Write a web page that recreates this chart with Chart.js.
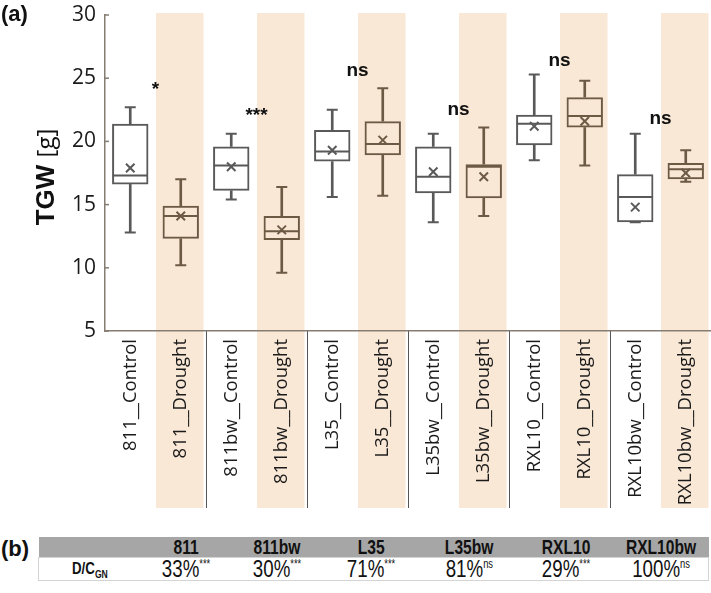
<!DOCTYPE html>
<html lang="en">
<head>
    <meta charset="UTF-8">
    <title>TGW - Control vs Drought</title>
    <script src="https://cdn.jsdelivr.net/npm/chart.js"></script>
    <style>
        body {
            margin: 0;
            background: #fff;
        }
        #wrap {
            position: relative;
            width: 711px;
            height: 593px;
        }
        #tgw-chart {
            position: absolute;
            left: 0;
            top: 0;
        }
        .panel-tag {
            position: absolute;
            left: 1px;
            font: bold 22px "Liberation Sans", Arial, sans-serif;
            color: #111;
        }
        #ratio-table {
            position: absolute;
            left: 38px;
            top: 537px;
            width: 670px;
            border-collapse: collapse;
            font-family: "Liberation Sans", Arial, sans-serif;
            color: #111;
            table-layout: fixed;
        }
        #ratio-table th {
            background: #a6a6a6;
            height: 20px;
            padding: 0;
            font-size: 20px;
            font-weight: bold;
            text-align: center;
            line-height: 20px;
        }
        #ratio-table td {
            height: 22px;
            padding: 0;
            font-size: 24px;
            text-align: center;
            line-height: 22px;
            border: 1px solid #d4d4d4;
            border-left: none;
            border-right: none;
        }
        #ratio-table td:first-child { border-left: 1px solid #d4d4d4; }
        #ratio-table td:last-child { border-right: 1px solid #d4d4d4; }
        #ratio-table .narrow {
            display: inline-block;
            transform: scaleX(0.78);
            white-space: nowrap;
        }
        #ratio-table td.rowname {
            font-size: 17px;
            font-weight: bold;
        }
        #ratio-table sup {
            font-size: 12px;
            vertical-align: 9px;
            line-height: 0;
        }
        #ratio-table sub {
            font-size: 11px;
            vertical-align: -4px;
            line-height: 0;
        }
    </style>
</head>
<body>
<div id="wrap">
    <canvas id="tgw-chart" width="711" height="520"></canvas>
    <div class="panel-tag" style="top:1px">(a)</div>
    <div class="panel-tag" style="top:536px">(b)</div>
    <table id="ratio-table">
        <colgroup>
            <col style="width:102px"><col style="width:92px"><col style="width:90px">
            <col style="width:98px"><col style="width:98px"><col style="width:96px"><col style="width:94px">
        </colgroup>
        <thead><tr id="head-row"><th></th></tr></thead>
        <tbody><tr id="value-row"><td class="rowname"><span class="narrow">D/C<sub>GN</sub></span></td></tr></tbody>
    </table>
</div>

<script>
    // genotype x treatment groups
    const groups = [
        '811__Control', '811__Drought', '811bw__Control', '811bw__Drought',
        'L35__Control', 'L35__Drought', 'L35bw__Control', 'L35bw__Drought',
        'RXL10__Control', 'RXL10__Drought', 'RXL10bw__Control', 'RXL10bw__Drought'
    ];
    const whiskerLow  = [12.8, 10.2, 15.4,  9.6, 15.6, 15.7, 13.6, 14.1, 18.5, 18.1, 13.6, 16.8];
    const q1          = [16.6, 12.3, 16.1, 12.2, 18.4, 18.9, 15.9, 15.5, 19.7, 21.1, 13.6, 17.0];
    const medians     = [17.3, 14.1, 18.1, 12.9, 19.2, 19.8, 17.2, 18.0, 21.4, 22.0, 15.6, 17.8];
    const q3          = [21.4, 14.9, 19.6, 14.1, 20.9, 21.6, 19.6, 18.2, 22.1, 23.5, 17.4, 18.3];
    const whiskerHigh = [22.7, 17.0, 20.6, 16.4, 22.5, 24.2, 20.6, 21.1, 25.3, 24.8, 20.6, 19.3];
    const means       = [17.9, 14.1, 18.0, 13.0, 19.3, 20.1, 17.6, 17.2, 21.2, 21.6, 14.8, 17.5];

    // significance marks, one per genotype pair
    const sigMarks  = ['*', '***', 'ns', 'ns', 'ns', 'ns'];
    const sigValues = [23.7, 21.6, 25.2, 22.1, 26.0, 21.4];

    // panel (b)
    const genotypes = ['811', '811bw', 'L35', 'L35bw', 'RXL10', 'RXL10bw'];
    const ratios    = ['33%', '30%', '71%', '81%', '29%', '100%'];
    const ratioSig  = ['***', '***', '***', 'ns', '***', 'ns'];

    const controlColor = '#595959';
    const droughtColor = '#6d5a45';
    const shadeColor = '#fae8d6';
    const axisColor = '#857d72';
    const boxColors = groups.map(g => g.endsWith('Drought') ? droughtColor : controlColor);

    const headRow = document.getElementById('head-row');
    const valueRow = document.getElementById('value-row');
    genotypes.forEach((g, i) => {
        const th = document.createElement('th');
        th.innerHTML = '<span class="narrow">' + g + '</span>';
        headRow.appendChild(th);
        const td = document.createElement('td');
        td.innerHTML = '<span class="narrow">' + ratios[i] + '<sup>' + ratioSig[i] + '</sup></span>';
        valueRow.appendChild(td);
    });

    const bgPlugin = {
        id: 'columns',
        beforeDraw(chart) {
            const ctx = chart.ctx;
            const x = chart.scales.x;
            const area = chart.chartArea;
            const colW = x.width / groups.length;
            const bottom = x.bottom - 12;
            ctx.save();
            ctx.fillStyle = shadeColor;
            groups.forEach((g, i) => {
                if (!g.endsWith('Drought')) return;
                const cx = x.getPixelForValue(i);
                ctx.fillRect(cx - colW / 2 + 0.5, area.top - 2, colW - 3, bottom - area.top + 2);
            });
            ctx.strokeStyle = '#555';
            ctx.lineWidth = 1;
            for (let i = 1; i < groups.length - 1; i += 2) {
                const bx = Math.round((x.getPixelForValue(i) + x.getPixelForValue(i + 1)) / 2) + 0.5;
                ctx.beginPath();
                ctx.moveTo(bx, area.bottom);
                ctx.lineTo(bx, bottom);
                ctx.stroke();
            }
            ctx.restore();
        },
        afterDraw(chart) {
            const ctx = chart.ctx;
            const x = chart.scales.x;
            const y = chart.scales.y;
            const area = chart.chartArea;
            ctx.save();
            // small inward ticks on y axis
            ctx.strokeStyle = axisColor;
            ctx.lineWidth = 1.5;
            y.ticks.forEach(t => {
                const py = y.getPixelForValue(t.value);
                ctx.beginPath();
                ctx.moveTo(area.left, py);
                ctx.lineTo(area.left + 4, py);
                ctx.stroke();
            });
            // significance labels
            ctx.fillStyle = '#111';
            ctx.textAlign = 'center';
            ctx.textBaseline = 'alphabetic';
            ctx.font = 'bold 19px "Liberation Sans", Arial, sans-serif';
            sigMarks.forEach((m, k) => {
                const px = (x.getPixelForValue(2 * k) + x.getPixelForValue(2 * k + 1)) / 2;
                ctx.fillText(m, px, y.getPixelForValue(sigValues[k]));
            });
            // y axis title: bold TGW + normal [g]
            ctx.translate(47, (area.top + area.bottom) / 2 + 4);
            ctx.rotate(-Math.PI / 2);
            ctx.textBaseline = 'middle';
            ctx.textAlign = 'left';
            const boldFont = 'bold 26px "Liberation Sans", Arial, sans-serif';
            const normFont = '24px "Open Sans", sans-serif';
            ctx.font = boldFont;
            const w1 = ctx.measureText('TGW ').width;
            ctx.font = normFont;
            const w2 = ctx.measureText('[g]').width;
            const start = -(w1 + w2) / 2;
            ctx.font = boldFont;
            ctx.fillText('TGW ', start, 0);
            ctx.font = normFont;
            ctx.fillText('[g]', start + w1, 0);
            ctx.restore();
        }
    };

    const ctx = document.getElementById('tgw-chart').getContext('2d');
    const tgwChart = new Chart(ctx, {
        data: {
            labels: groups,
            datasets: [
                {
                    type: 'bar',
                    label: 'box',
                    data: q1.map((v, i) => [v, q3[i]]),
                    backgroundColor: 'rgba(0,0,0,0)',
                    borderColor: boxColors,
                    borderWidth: 2,
                    borderSkipped: false,
                    grouped: false,
                    categoryPercentage: 1,
                    barPercentage: 0.72,
                    order: 1
                },
                {
                    type: 'bar',
                    label: 'lower whisker',
                    data: whiskerLow.map((v, i) => [v, q1[i]]),
                    backgroundColor: boxColors,
                    barThickness: 2,
                    grouped: false,
                    order: 2
                },
                {
                    type: 'bar',
                    label: 'upper whisker',
                    data: q3.map((v, i) => [v, whiskerHigh[i]]),
                    backgroundColor: boxColors,
                    barThickness: 2,
                    grouped: false,
                    order: 2
                },
                {
                    type: 'line',
                    label: 'median',
                    data: medians,
                    showLine: false,
                    pointStyle: 'line',
                    pointRadius: 17.5,
                    pointBorderWidth: 2,
                    pointBorderColor: boxColors,
                    order: 0
                },
                {
                    type: 'line',
                    label: 'low cap',
                    data: whiskerLow,
                    showLine: false,
                    pointStyle: 'line',
                    pointRadius: 5.5,
                    pointBorderWidth: 2,
                    pointBorderColor: boxColors,
                    order: 0
                },
                {
                    type: 'line',
                    label: 'high cap',
                    data: whiskerHigh,
                    showLine: false,
                    pointStyle: 'line',
                    pointRadius: 5.5,
                    pointBorderWidth: 2,
                    pointBorderColor: boxColors,
                    order: 0
                },
                {
                    type: 'line',
                    label: 'mean',
                    data: means,
                    showLine: false,
                    pointStyle: 'crossRot',
                    pointRadius: 6,
                    pointBorderWidth: 2,
                    pointBorderColor: boxColors,
                    order: 0
                }
            ]
        },
        options: {
            responsive: false,
            animation: false,
            layout: {
                autoPadding: false,
                padding: { top: 15, left: 0, right: 0, bottom: 0 }
            },
            plugins: {
                legend: { display: false },
                tooltip: { enabled: false }
            },
            scales: {
                x: {
                    type: 'category',
                    offset: true,
                    grid: { display: false, drawTicks: false },
                    border: { display: true, color: axisColor, width: 1.5 },
                    ticks: {
                        autoSkip: false,
                        maxRotation: 90,
                        minRotation: 90,
                        padding: 8,
                        color: '#1a1a1a',
                        font: { family: '"Open Sans", sans-serif', size: 18.5 }
                    },
                    afterFit: scale => {
                        scale.height = 189;
                        scale.paddingLeft = 0;
                        scale.paddingRight = 0;
                    }
                },
                y: {
                    min: 5,
                    max: 30,
                    grid: { display: false, drawTicks: false },
                    border: { display: true, color: axisColor, width: 1.5 },
                    ticks: {
                        stepSize: 5,
                        padding: 9,
                        color: '#1a1a1a',
                        font: { family: '"Open Sans", sans-serif', size: 21 }
                    },
                    afterFit: scale => {
                        scale.width = 105;
                        scale.paddingTop = 0;
                        scale.paddingBottom = 0;
                    }
                }
            }
        },
        plugins: [bgPlugin]
    });
</script>
</body>
</html>
